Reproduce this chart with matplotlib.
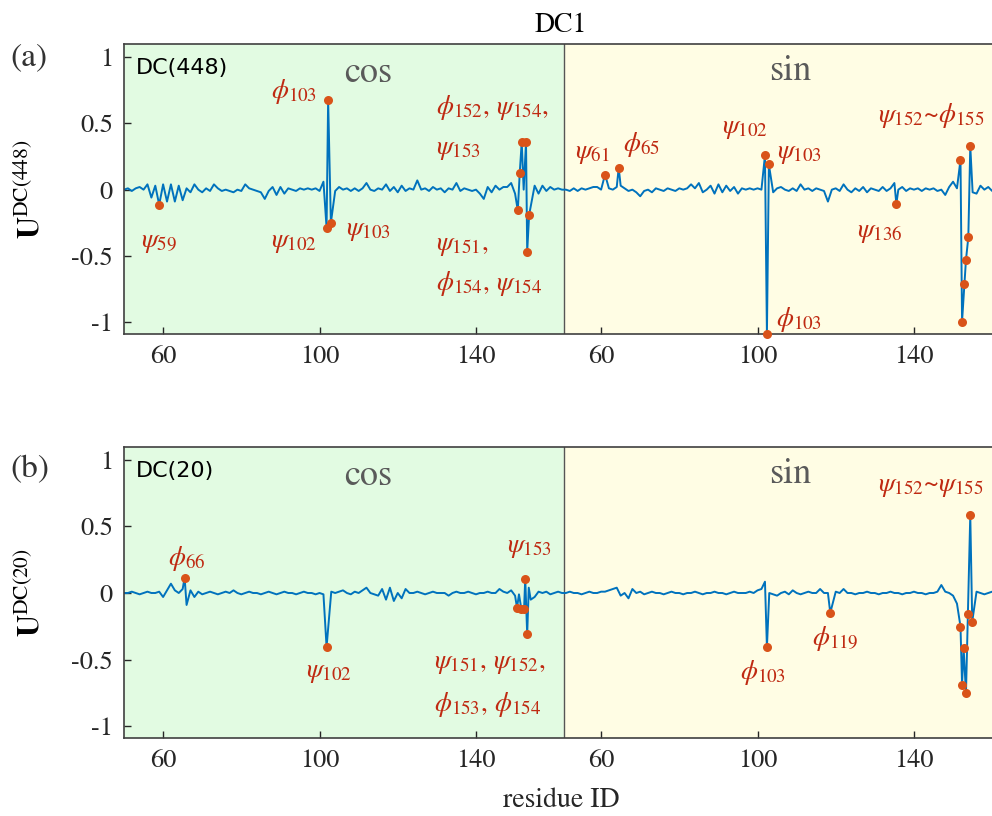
# DC1 loadings, cos and sin blocks side by side, two dimensions
import matplotlib.pyplot as plt
import numpy as np

plt.rcParams['font.family'] = 'STIXGeneral'
plt.rcParams['mathtext.fontset'] = 'stix'
plt.rcParams['axes.unicode_minus'] = False

SIN_SHIFT = 112      # sin block is drawn right after the cos block
BORDER = 162.5

cos_res = np.arange(50, 163)
sin_res = np.arange(51, 163)

# baseline wiggle, 1/100 units, one value per residue
a_cos_base = [0, 1, -1, 1, 2, 0, 4, -6, 3, 0, 4, -9, 4, -9, 3, -8, 1, -2, 4, 0,
              -2, 1, -1, 4, 1, -1, 0, -1, -2, 0, -1, 4, 1, 0, -1, -2, -7, -1, 2, -4,
              2, -3, 1, 0, -1, 1, 0, 1, 0, 1, -1, 6, 0, 0, -1, 2, 0, 1, -1, 1,
              -1, 1, 5, 0, -1, 1, 0, 4, -1, 2, -2, 3, -1, 1, 0, 7, 0, 1, -1, 2,
              0, 1, -2, 1, 0, 5, -1, 1, 0, -1, 0, -3, -7, 2, -2, 3, 0, 2, 2, 5,
              -3, 0, 0, 0, 0, 3, -3, 3, -1, 2, 0, 1, 0]
a_sin_base = [0, -1, 1, -1, 1, 0, 1, 2, 2, 0, 0, 1, 0, 2, 3, 1, -1, 0, -2, -5,
              -1, 0, -2, 1, 0, -1, 1, 0, -1, 1, 0, 1, 4, 1, 5, -2, 0, 3, -3, 4,
              -2, 3, -1, 2, -3, 1, 0, 1, 0, 1, 0, 0, 0, -2, 1, 2, 0, -1, 1, -1,
              4, 0, 1, -1, 1, 0, -1, -9, 0, 1, -1, 4, 0, -2, 1, -1, 2, -2, 1, 0,
              -1, 2, -1, 1, 5, 0, 2, -1, 1, 0, 1, -1, 1, 0, 1, -1, 0, -4, 2, 6,
              1, 0, 0, 0, -2, -3, 3, 0, 2, -1, 1, 0]
b_cos_base = [0, 0, 1, 0, -1, 0, 1, 0, 0, 1, -3, 2, 7, 2, 0, 3, -9, 2, -3, 1,
              -1, 0, 1, 0, -1, 0, 1, 0, 2, 0, -1, 0, 1, 0, 0, -1, 0, 1, 0, -1,
              0, 1, 0, 0, -1, 0, 1, 0, 0, -1, 0, -1, 0, 1, 0, 1, 2, 0, -1, 1,
              0, 2, 4, 0, -1, -2, 3, -5, 4, -6, 0, -4, 3, 0, 0, 1, 0, -1, 0, 1,
              0, 0, 0, -2, 0, 1, 0, 0, 1, 0, -1, 0, 0, 1, 0, 0, 3, 1, 0, 2,
              -2, -1, 0, 0, -5, -3, 1, 0, 1, -1, 0, 1, 0]
b_sin_base = [0, 1, 0, 0, -1, 0, 1, 0, 0, 1, 1, 2, 3, 4, -2, 0, -4, 3, 0, 1,
              -1, 0, 1, 0, 0, -1, 0, 1, 0, 0, -1, 0, 0, 1, 0, -1, 0, 0, 1, 0,
              0, -1, 0, 1, 0, 0, 0, 1, 0, 2, 3, 0, 0, -1, -2, 0, 1, -1, 2, 0,
              -1, 0, 1, 0, 0, 3, 0, 0, 0, 1, 0, 3, 0, 0, -1, 0, 0, 1, 0, 0,
              -1, 0, 0, 1, 0, 0, -1, 0, 0, 1, 0, 0, -1, 0, 0, 1, 6, 1, 0, -2,
              -8, 0, 0, 0, 0, 1, 0, -1, 0, 1, 0, 0]

# highlighted dihedrals (residue position, loading)
a_cos_x = [59.0, 101.8, 102.2, 102.9, 150.7, 151.2, 151.7, 152.8, 153.1, 153.6]
a_cos_y = [-0.114, -0.287, 0.677, -0.25, -0.157, 0.129, 0.36, 0.36, -0.469, -0.19]
a_sin_x = [61.0, 64.5, 101.9, 102.4, 102.9, 135.5, 151.9, 152.3, 152.9, 153.3, 153.9, 154.4]
a_sin_y = [0.114, 0.165, 0.259, -1.09, 0.19, -0.109, 0.226, -0.996, -0.71, -0.53, -0.36, 0.329]
b_cos_x = [65.5, 101.8, 150.5, 151.6, 152.3, 152.6, 153.1]
b_cos_y = [0.116, -0.406, -0.111, -0.119, -0.121, 0.108, -0.31]
b_sin_x = [102.4, 118.6, 151.9, 152.3, 152.7, 153.3, 153.8, 154.4, 154.9]
b_sin_y = [-0.408, -0.149, -0.252, -0.693, -0.416, -0.755, -0.156, 0.587, -0.215]

# other points on the spikes (no dot)
a_cos_ex, a_cos_ey = [152.2], [0.0]
a_sin_ex, a_sin_ey = [], []
b_cos_ex, b_cos_ey = [153.5], [0.04]
b_sin_ex, b_sin_ey = [101.9], [0.085]

tick_res = [60, 100, 140]

RED = '#BF2A12'
a_labels = [(r'$\psi_{59}$', 58.9, -0.40, 'center'),
            (r'$\phi_{103}$', 93.4, 0.74, 'center'),
            (r'$\psi_{102}$', 93.4, -0.40, 'center'),
            (r'$\psi_{103}$', 112.5, -0.31, 'center'),
            (r'$\phi_{152}$, $\psi_{154}$,', 129.7, 0.62, 'left'),
            (r'$\psi_{153}$', 129.7, 0.30, 'left'),
            (r'$\psi_{151}$,', 129.7, -0.42, 'left'),
            (r'$\phi_{154}$, $\psi_{154}$', 129.7, -0.71, 'left'),
            (r'$\psi_{61}$', 57.8 + SIN_SHIFT, 0.27, 'center'),
            (r'$\phi_{65}$', 70.2 + SIN_SHIFT, 0.34, 'center'),
            (r'$\psi_{102}$', 96.8 + SIN_SHIFT, 0.46, 'center'),
            (r'$\psi_{103}$', 110.8 + SIN_SHIFT, 0.27, 'center'),
            (r'$\phi_{103}$', 110.7 + SIN_SHIFT, -0.98, 'center'),
            (r'$\psi_{136}$', 131.2 + SIN_SHIFT, -0.32, 'center'),
            (r'$\psi_{152}$~$\phi_{155}$', 130.8 + SIN_SHIFT, 0.56, 'left')]
b_labels = [(r'$\phi_{66}$', 66.1, 0.26, 'center'),
            (r'$\psi_{102}$', 102.4, -0.595, 'center'),
            (r'$\psi_{153}$', 153.8, 0.34, 'center'),
            (r'$\psi_{151}$, $\psi_{152}$,', 129.3, -0.53, 'left'),
            (r'$\phi_{153}$, $\phi_{154}$', 129.3, -0.835, 'left'),
            (r'$\phi_{103}$', 101.4 + SIN_SHIFT, -0.60, 'center'),
            (r'$\phi_{119}$', 120.0 + SIN_SHIFT, -0.345, 'center'),
            (r'$\psi_{152}$~$\psi_{155}$', 130.8 + SIN_SHIFT, 0.80, 'left')]


def build(res, base, px, py, ex, ey):
    bx = np.asarray(res, float)
    by = np.asarray(base) / 100
    sx = np.array(list(px) + list(ex), float)
    sy = np.array(list(py) + list(ey), float)
    keep = np.array([np.min(np.abs(sx - x)) > 0.45 for x in bx])
    x = np.concatenate([bx[keep], sx])
    y = np.concatenate([by[keep], sy])
    o = np.argsort(x)
    return x[o], y[o]


def panel(ax, cos_part, sin_part, labels, tag, ylab):
    xc, yc = build(cos_res, *cos_part)
    xs, ys = build(sin_res, *sin_part)
    x = np.concatenate([xc, xs + SIN_SHIFT])
    y = np.concatenate([yc, ys])

    ax.axvspan(50, BORDER, color='#E2FBE2', zorder=0)
    ax.axvspan(BORDER, 275, color='#FFFDE4', zorder=0)
    ax.axvline(BORDER, color='#555555', lw=1.0, zorder=1)

    ax.plot(x, y, color='#0072BD', lw=1.4, zorder=2)
    mx = list(cos_part[1]) + [v + SIN_SHIFT for v in sin_part[1]]
    my = list(cos_part[2]) + list(sin_part[2])
    ax.plot(mx, my, 'o', color='#D95319', ms=6.5, mec='none', zorder=3, clip_on=False)

    for txt, lx, ly, ha in labels:
        ax.text(lx, ly, txt, color=RED, fontsize=19.5, ha=ha, va='center')

    ax.text(112.5, 0.88, 'cos', color='#5a5a5a', fontsize=26, ha='center', va='center')
    ax.text(220.3, 0.89, 'sin', color='#5a5a5a', fontsize=26, ha='center', va='center')
    ax.text(0.0136, 0.917, tag, transform=ax.transAxes, family='DejaVu Sans',
            fontsize=16, ha='left', va='center')

    ax.set_xlim(50, 275)
    ax.set_ylim(-1.09, 1.1)
    ax.set_xticks(tick_res + [t + SIN_SHIFT for t in tick_res])
    ax.set_xticklabels([str(t) for t in tick_res] * 2)
    ax.set_yticks([-1, -0.5, 0, 0.5, 1])
    ax.set_yticklabels(['-1', '-0.5', '0', '0.5', '1'])
    ax.tick_params(direction='in', length=5, width=1, labelsize=19,
                   colors='#262626', pad=8)
    for s in ax.spines.values():
        s.set_color('#404040')
        s.set_linewidth(1.2)
    ax.set_ylabel(ylab, fontsize=22)
    ax.yaxis.set_label_coords(-0.088, 0.5)


fig = plt.figure(figsize=(9.92, 8.16), dpi=100)
ax1 = fig.add_axes([0.125, 0.5907, 0.887, 0.3554])
ax2 = fig.add_axes([0.125, 0.0956, 0.887, 0.357])

panel(ax1, (a_cos_base, a_cos_x, a_cos_y, a_cos_ex, a_cos_ey),
      (a_sin_base, a_sin_x, a_sin_y, a_sin_ex, a_sin_ey),
      a_labels, 'DC(448)', r'$\mathbf{U}^{\mathrm{DC(448)}}$')
panel(ax2, (b_cos_base, b_cos_x, b_cos_y, b_cos_ex, b_cos_ey),
      (b_sin_base, b_sin_x, b_sin_y, b_sin_ex, b_sin_ey),
      b_labels, 'DC(20)', r'$\mathbf{U}^{\mathrm{DC(20)}}$')

fig.text(0.5655, 0.969, 'DC1', fontsize=20, ha='center', va='center')
fig.text(0.029, 0.930, '(a)', fontsize=24, ha='center', va='center', color='#333333')
fig.text(0.030, 0.424, '(b)', fontsize=24, ha='center', va='center', color='#333333')
ax2.set_xlabel('residue ID', fontsize=20, color='#262626')
ax2.xaxis.set_label_coords(0.4965, -0.17)

fig.savefig('out.png', dpi=100)
plt.close()
